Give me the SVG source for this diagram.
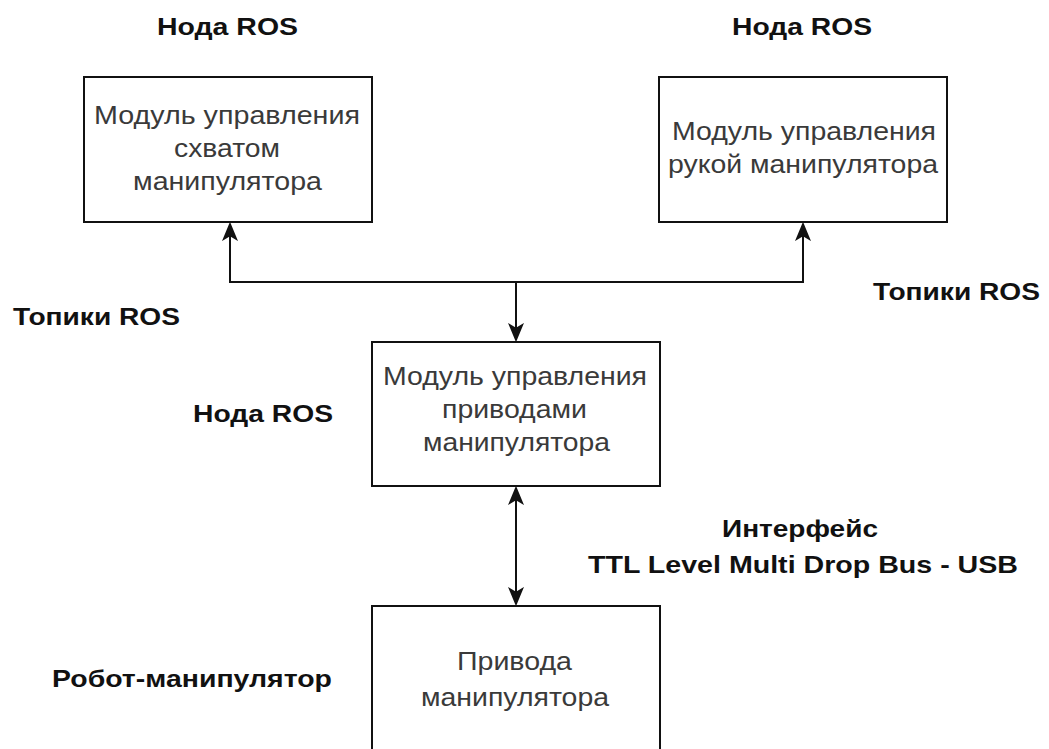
<svg xmlns="http://www.w3.org/2000/svg" width="1049" height="749" viewBox="0 0 1049 749">
<style>
.box{fill:#fff;stroke:#111;stroke-width:2}
.t{font-family:"Liberation Sans",Arial,sans-serif;font-size:25px;fill:#3a3a3a}
.l{font-family:"Liberation Sans",Arial,sans-serif;font-size:24px;font-weight:bold;fill:#111}
.c{fill:none;stroke:#111;stroke-width:2}
</style>
<defs>
<marker id="arr" markerUnits="userSpaceOnUse" markerWidth="20" markerHeight="16" viewBox="0 0 18 15" refX="16" refY="7.5" orient="auto-start-reverse">
<path d="M0,0 L18,7.5 L0,15 L4.5,7.5 Z" fill="#111"/>
</marker>
</defs>
<rect width="1049" height="749" fill="#fff"/>
<g id="connectors">
<path class="c" d="M516,282 L230,282 L230,224" marker-end="url(#arr)"/>
<path class="c" d="M516,282 L803,282 L803,224" marker-end="url(#arr)"/>
<path class="c" d="M516,282 L516,340" marker-end="url(#arr)"/>
<path class="c" d="M516,488 L516,604" marker-start="url(#arr)" marker-end="url(#arr)"/>
</g>
<g id="node-gripper">
<rect class="box" x="84" y="77" width="288" height="145"/>
<text class="t" x="94" y="124" textLength="266" lengthAdjust="spacingAndGlyphs">Модуль управления</text>
<text class="t" x="174" y="157" textLength="106" lengthAdjust="spacingAndGlyphs">схватом</text>
<text class="t" x="133" y="190" textLength="189" lengthAdjust="spacingAndGlyphs">манипулятора</text>
</g>
<g id="node-arm">
<rect class="box" x="659" y="77" width="288" height="145"/>
<text class="t" x="672" y="140" textLength="264" lengthAdjust="spacingAndGlyphs">Модуль управления</text>
<text class="t" x="668" y="173" textLength="270" lengthAdjust="spacingAndGlyphs">рукой манипулятора</text>
</g>
<g id="node-drives-ctrl">
<rect class="box" x="372" y="342" width="288" height="144"/>
<text class="t" x="383" y="385" textLength="264" lengthAdjust="spacingAndGlyphs">Модуль управления</text>
<text class="t" x="442" y="418" textLength="145" lengthAdjust="spacingAndGlyphs">приводами</text>
<text class="t" x="423" y="451" textLength="187" lengthAdjust="spacingAndGlyphs">манипулятора</text>
</g>
<g id="node-drives">
<rect class="box" x="372" y="606" width="288" height="145"/>
<text class="t" x="457" y="670" textLength="115" lengthAdjust="spacingAndGlyphs">Привода</text>
<text class="t" x="421" y="706" textLength="188" lengthAdjust="spacingAndGlyphs">манипулятора</text>
</g>
<g id="labels">
<text class="l" x="157" y="35" textLength="141" lengthAdjust="spacingAndGlyphs">Нода ROS</text>
<text class="l" x="732" y="35" textLength="140" lengthAdjust="spacingAndGlyphs">Нода ROS</text>
<text class="l" x="193" y="422" textLength="140" lengthAdjust="spacingAndGlyphs">Нода ROS</text>
<text class="l" x="13" y="325" textLength="167" lengthAdjust="spacingAndGlyphs">Топики ROS</text>
<text class="l" x="873" y="300" textLength="167" lengthAdjust="spacingAndGlyphs">Топики ROS</text>
<text class="l" x="722" y="537" textLength="156" lengthAdjust="spacingAndGlyphs">Интерфейс</text>
<text class="l" x="588" y="573" textLength="430" lengthAdjust="spacingAndGlyphs">TTL Level Multi Drop Bus - USB</text>
<text class="l" x="52" y="687" textLength="280" lengthAdjust="spacingAndGlyphs">Робот-манипулятор</text>
</g>
</svg>
